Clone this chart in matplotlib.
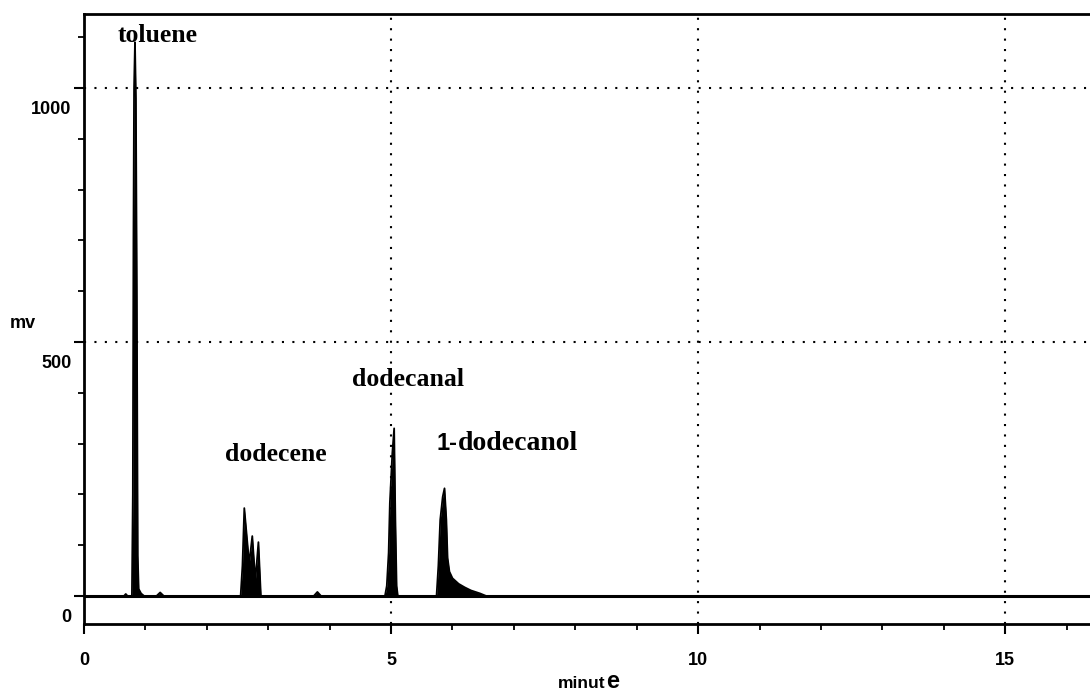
import matplotlib.pyplot as plt
import matplotlib.transforms as mtransforms
import numpy as np

# chromatogram trace (time in minutes, signal in mV)
baseline_start = 0.0
baseline_end = 16.4

blip1_t = [0.65, 0.68, 0.71]
blip1_mv = [0, 4, 0]

toluene_t = [0.78, 0.795, 0.805, 0.815, 0.83, 0.845, 0.86, 0.875, 0.89, 0.93, 0.98]
toluene_mv = [0, 200, 700, 1000, 1090, 980, 600, 80, 14, 5, 0]

blip2_t = [1.18, 1.24, 1.30]
blip2_mv = [0, 7, 0]

dodecene_t = [2.55, 2.58, 2.61, 2.69, 2.74, 2.79, 2.84, 2.88]
dodecene_mv = [0, 60, 173, 64, 118, 31, 106, 0]

blip3_t = [3.74, 3.80, 3.86]
blip3_mv = [0, 8, 0]

dodecanal_t = [4.90, 4.93, 4.96, 4.98, 5.02, 5.05, 5.07, 5.09, 5.11]
dodecanal_mv = [0, 20, 85, 183, 281, 330, 150, 20, 0]

dodecanol_t = [5.74, 5.77, 5.80, 5.84, 5.87, 5.90, 5.92, 5.95, 6.00, 6.10, 6.20, 6.30, 6.45, 6.55]
dodecanol_mv = [0, 60, 150, 195, 212, 150, 75, 48, 35, 24, 17, 11, 5, 0]

# peak names and where they sit (left edge, baseline)
peak_names = ["toluene", "dodecene", "dodecanal"]
peak_name_pos = [(0.54, 1091), (2.30, 266), (4.36, 413)]

x_ticks = [0, 5, 10, 15]
y_ticks = [0, 500, 1000]

t = np.concatenate([[baseline_start], blip1_t, toluene_t, blip2_t, dodecene_t,
                    blip3_t, dodecanal_t, dodecanol_t, [baseline_end]])
mv = np.concatenate([[0], blip1_mv, toluene_mv, blip2_mv, dodecene_mv,
                     blip3_mv, dodecanal_mv, dodecanol_mv, [0]])

fig = plt.figure(figsize=(10.9, 6.92), dpi=100)
ax = fig.add_axes([84 / 1090, 68 / 692, 1 - 84 / 1090, 610 / 692])

ax.set_xlim(0, 16.38)
ax.set_ylim(-55.1, 1145.7)

# grid
for gx in [5, 10, 15]:
    ax.axvline(gx, color="black", lw=1.5, linestyle=(0, (1, 4)), zorder=1)
for gy in [500, 1000]:
    ax.axhline(gy, color="black", lw=1.5, linestyle=(0, (1, 4)), zorder=1)

# trace
ax.fill_between(t, mv, 0, color="black", lw=0, zorder=3)
ax.plot(t, mv, color="black", lw=1.3, zorder=3)
ax.axhline(0, color="black", lw=2.2, zorder=4)

# spines
ax.spines["right"].set_visible(False)
for s in ["top", "left", "bottom"]:
    ax.spines[s].set_linewidth(2)

# ticks
ax.set_xticks(x_ticks)
ax.set_xticks(np.arange(1, 17), minor=True)
ax.set_yticks(y_ticks)
ax.set_yticks(np.arange(100, 1101, 100), minor=True)
ax.tick_params(axis="x", which="major", direction="out", length=7, width=1.5, pad=13)
ax.tick_params(axis="x", which="minor", direction="out", length=4, width=1.3)
ax.tick_params(axis="y", which="major", direction="out", length=7, width=1.5, pad=2)
ax.tick_params(axis="y", which="minor", direction="out", length=4, width=1.3)
ax.set_xticklabels([str(v) for v in x_ticks], fontfamily="Liberation Sans",
                   fontweight="bold", fontsize=13)
ax.set_yticklabels([str(v) for v in y_ticks], fontfamily="Liberation Sans",
                   fontweight="bold", fontsize=13)
shift = mtransforms.ScaledTranslation(0, -0.19, fig.dpi_scale_trans)
for lab in ax.get_yticklabels():
    lab.set_transform(lab.get_transform() + shift)

# axis titles
fig.text(10 / 1090, 1 - 323 / 692, "mv", fontfamily="Liberation Sans",
         fontweight="bold", fontsize=13, ha="left", va="center")
fig.text(558 / 1090, 1 - 688 / 692, "minut", fontfamily="Liberation Sans",
         fontweight="bold", fontsize=12.5, ha="left", va="baseline")
fig.text(606 / 1090, 1 - 688 / 692, "e", fontfamily="Liberation Sans",
         fontweight="bold", fontsize=17, ha="left", va="baseline")

# peak labels
for name, (px, py) in zip(peak_names, peak_name_pos):
    ax.text(px, py, name, fontfamily="Liberation Serif", fontweight="bold",
            fontsize=18.5, ha="left", va="baseline", zorder=5)
ax.text(5.745, 287, "1-", fontfamily="Liberation Sans", fontweight="bold",
        fontsize=17, ha="left", va="baseline", zorder=5)
ax.text(6.085, 287, "dodecanol", fontfamily="Liberation Serif", fontweight="bold",
        fontsize=20, ha="left", va="baseline", zorder=5)

plt.savefig("out.png", dpi=100)
